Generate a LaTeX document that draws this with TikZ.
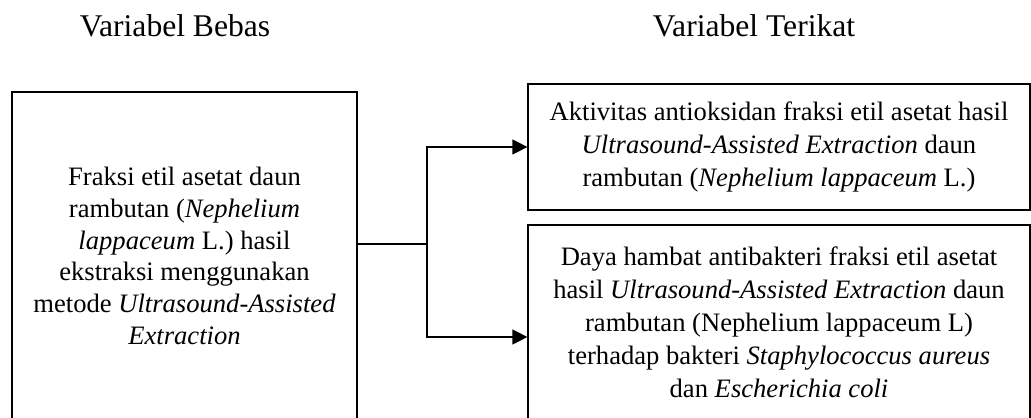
\documentclass[tikz,border=0pt]{standalone}
\usepackage{fontspec}
\setmainfont{Liberation Serif}
\usetikzlibrary{arrows.meta}

\begin{document}
\begin{tikzpicture}[x=0.5pt,y=-0.5pt]
\tikzstyle{box}=[draw, line width=0.6pt, rectangle, align=center, inner sep=0pt,
  font=\fontsize{13.3}{15.85}\selectfont]
\tikzstyle{wide}=[box, minimum width=251pt, font=\fontsize{13.3}{16.5}\selectfont]
\tikzstyle{head}=[anchor=base, inner sep=0pt, font=\fontsize{15.8}{18}\selectfont]
\tikzstyle{arr}=[line width=0.6pt, -{Triangle[length=7.5pt,width=7.5pt]}]

\useasboundingbox (0,0) rectangle (1031,417);
\clip (0,0) rectangle (1031,417);

\node[head] (bebas) at (175,37) {Variabel Bebas};
\node[head] (terikat) at (754,37) {Variabel Terikat};

\node[box, minimum width=172.5pt, minimum height=164pt] (bebasbox) at (184.5,256)
  {Fraksi etil asetat daun\\ rambutan (\textit{Nephelium}\\ \textit{lappaceum} L.) hasil\\
   ekstraksi menggunakan\\ metode \textit{Ultrasound-Assisted}\\ \textit{Extraction}};
\node[wide, minimum height=63pt] (antiox) at (779,147)
  {Aktivitas antioksidan fraksi etil asetat hasil\\
   \textit{Ultrasound-Assisted Extraction} daun\\
   rambutan (\textit{Nephelium lappaceum} L.)};
\node[wide, minimum height=97pt] (antibak) at (779,322)
  {Daya hambat antibakteri fraksi etil asetat\\
   hasil \textit{Ultrasound-Assisted Extraction} daun\\
   rambutan (Nephelium lappaceum L)\\
   terhadap bakteri \textit{Staphylococcus aureus}\\
   dan \textit{Escherichia coli}};

\coordinate (split) at (427,244);
\draw[line width=0.6pt] (bebasbox.east |- split) -- (split);
\draw[arr] (split) |- (antiox.west);
\draw[arr] (split) |- ([yshift=-7.5pt]antibak.west);

\end{tikzpicture}
\end{document}
